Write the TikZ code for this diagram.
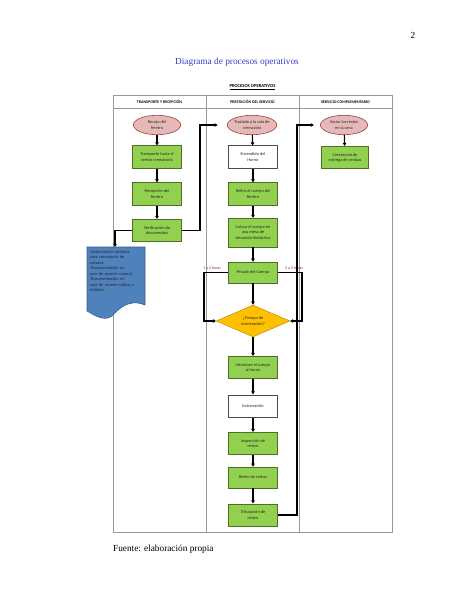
\documentclass[tikz,border=0pt]{standalone}
\usepackage{fontspec}
\setmainfont{Liberation Serif}
\newfontfamily\calib{Carlito}
\usetikzlibrary{arrows.meta,shapes.geometric}
\definecolor{boxgreen}{RGB}{146,208,80}
\definecolor{greenedge}{RGB}{79,110,40}
\definecolor{ovalpink}{RGB}{230,185,184}
\definecolor{ovaledge}{RGB}{149,55,53}
\definecolor{docblue}{RGB}{79,129,189}
\definecolor{docedge}{RGB}{56,93,138}
\definecolor{decfill}{RGB}{255,192,0}
\definecolor{decedge}{RGB}{191,144,0}
\definecolor{titleblue}{RGB}{60,60,200}
\definecolor{hourred}{RGB}{175,30,50}
\tikzset{
  nodetext/.style={font=\calib\fontsize{5.6}{6.8}\selectfont, text=black!85},
  gbox/.style={nodetext, draw=greenedge, fill=boxgreen, line width=0.7pt,
    minimum width=63pt, minimum height=29pt, inner sep=1pt, align=center},
  wbox/.style={gbox, draw=black!70, fill=white},
  oval/.style={nodetext, ellipse, draw=ovaledge, fill=ovalpink, line width=0.7pt,
    minimum width=61pt, minimum height=25pt, inner sep=0pt, align=center},
  decision/.style={nodetext, diamond, draw=decedge, fill=decfill, line width=0.7pt,
    minimum width=95pt, minimum height=36pt, inner sep=0pt, align=center},
  conn/.style={line width=1.5pt, -{Triangle[length=4pt,width=4.5pt]}},
  lane/.style={draw=black!40, line width=0.6pt},
  headtext/.style={font=\calib\bfseries\fontsize{5.2}{6}\selectfont},
  hours/.style={font=\calib\fontsize{5.2}{6}\selectfont, text=hourred, inner sep=0pt}
}
\begin{document}
\begin{tikzpicture}[x=1.2911pt,y=-1.2911pt]
\useasboundingbox (0,0) rectangle (474,613);
\fill[white] (0,0) rectangle (474,613);

% page furniture
\node[font=\fontsize{12}{14}\selectfont] (pagenum) at (413,35) {2};
\node[font=\fontsize{12}{14}\selectfont, text=titleblue] (title) at (237,62) {Diagrama de procesos operativos};
\node[font=\calib\bfseries\fontsize{6}{7}\selectfont] (ptitle) at (252.5,87) {\underline{PROCESOS OPERATIVOS}};
\node[font=\fontsize{12}{14}\selectfont, anchor=west, inner sep=0pt] (fuente) at (113,549) {Fuente: elaboración propia};

% table
\draw[lane] (113,95) rectangle (392,532);
\draw[lane] (113,108.5) -- (392,108.5);
\draw[lane] (206,95) -- (206,532);
\draw[lane] (299,95) -- (299,532);
\node[headtext] (h1) at (159.5,102) {TRANSPORTE Y RECEPCIÓN};
\node[headtext] (h2) at (252.5,102) {PRESTACIÓN DEL SERVICIO};
\node[headtext] (h3) at (345.5,102) {SERVICIO COMPLEMENTARIO};

% column 1
\node[oval] (recojo) at (157,125) {Recojo del\\féretro};
\node[gbox] (transp) at (157,157) {Transporte hacia el\\centro crematorio};
\node[gbox] (recep) at (157,194) {Recepción del\\féretro};
\node[gbox] (verif) at (157,230.5) {Verificación de\\documentos};

% document shape
\draw[docedge, fill=docblue, line width=0.7pt]
  (87,247) -- (145,247) -- (145,305)
  .. controls (128,298) and (118,310) .. (112,316)
  .. controls (104,322) and (94,315) .. (87,311) -- cycle;
\node[nodetext, font=\calib\fontsize{5.6}{7.1}\selectfont, text width=72pt, align=left, inner sep=0pt] (doc) at (117.5,271)
  {-Autorización sanitaria\\para crematorio de\\cadaver.\\-Documentación en\\caso de muerte natural\\-Documentación en\\caso de muerte súbita o\\violenta.};
\coordinate (doctop) at (115,247);

% column 2
\node[oval] (traslado) at (252,125) {Traslado a la sala de\\cremación};
\node[wbox] (encend) at (253,157) {Encendido del\\Horno};
\node[gbox] (retiro) at (253,194) {Retiro el cuerpo del\\féretro};
\node[gbox, minimum height=37pt] (coloca) at (253,232.5) {Coloca el cuerpo en\\una mesa de\\elevación hidráulica};
\node[gbox, minimum height=27pt] (pesado) at (253,272.5) {Pesado del Cuerpo};
\node[decision] (tiempo) at (253,321) {¿Tiempo de\\Incineración?};
\node[gbox] (introd) at (253,367.5) {Introduce el cuerpo\\al horno};
\node[wbox] (incin) at (253,406) {Incineración};
\node[gbox] (inspec) at (253,443.5) {Inspección de\\restos};
\node[gbox, minimum height=27pt] (retres) at (253,477.5) {Retiro de restos};
\node[gbox] (trit) at (253,515) {Trituración de\\restos};

% column 3
\node[oval] (vaciar) at (344,125) {Vaciar los restos\\en la urna};
\node[gbox, minimum width=61pt] (ceremonia) at (345,157.5) {Ceremonia de\\entrega de cenizas};

% connectors column 1
\draw[conn] (recojo) -- (transp);
\draw[conn] (transp) -- (recep);
\draw[conn] (recep) -- (verif);
\draw[conn] (verif.west) -| (doctop);
\coordinate (k1) at (200,125);
\draw[conn, shorten >=12pt] (verif.east) -| (k1) -- (traslado.west);

% connectors column 2
\draw[conn] (traslado) -- (encend);
\draw[conn] (encend) -- (retiro);
\draw[conn] (retiro) -- (coloca);
\draw[conn] (coloca) -- (pesado);
\draw[conn] (pesado) -- (tiempo);
\coordinate (kl) at (204,272.5);
\coordinate (kr) at (302,272.5);
\draw[conn] (pesado.west) -- (kl) |- (tiempo.west);
\draw[conn] (pesado.east) -- (kr) |- (tiempo.east);
\node[hours, anchor=south] (h12) at (212,270) {1 a 2 horas};
\node[hours, anchor=south] (h23) at (294,270) {2 a 3 horas};
\draw[conn] (tiempo) -- (introd);
\draw[conn] (introd) -- (incin);
\draw[conn] (incin) -- (inspec);
\draw[conn] (inspec) -- (retres);
\draw[conn] (retres) -- (trit);
\coordinate (k2) at (297,125);
\draw[conn, shorten >=8pt] (trit.east) -| (k2) -- (vaciar.west);

% column 3
\draw[conn] (vaciar) -- (ceremonia);
\end{tikzpicture}
\end{document}
